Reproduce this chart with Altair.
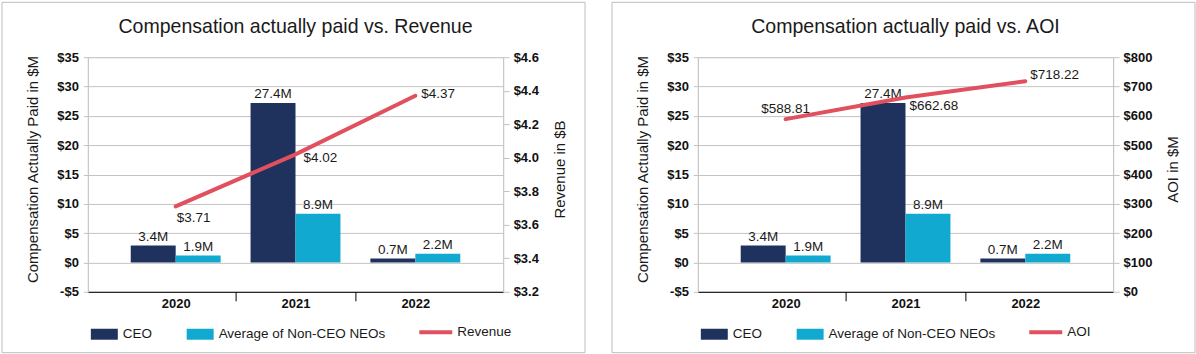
import altair as alt
import pandas as pd

# ---------------- data ----------------
years = ["2020", "2021", "2022"]
series_names = ["CEO", "Average of Non-CEO NEOs"]
ceo_values = [2.9, 27.2, 0.7]
neo_values = [1.2, 8.3, 1.5]
ceo_labels = ["3.4M", "27.4M", "0.7M"]
neo_labels = ["1.9M", "8.9M", "2.2M"]

revenue_values = [3.71, 4.02, 4.37]
revenue_labels = ["$3.71", "$4.02", "$4.37"]
aoi_values = [588.81, 662.68, 718.22]
aoi_labels = ["$588.81", "$662.68", "$718.22"]

comp_ticks = [-5, 0, 5, 10, 15, 20, 25, 30, 35]
revenue_ticks = [3.2, 3.4, 3.6, 3.8, 4.0, 4.2, 4.4, 4.6]
aoi_ticks = [0, 100, 200, 300, 400, 500, 600, 700, 800]

titles = ["Compensation actually paid vs. Revenue", "Compensation actually paid vs. AOI"]

# ---------------- style ----------------
FONT = "Liberation Sans"
NAVY = "#1F325E"
CYAN = "#11A9CF"
RED = "#E1505F"
GRID = "#C3C3C3"
FRAME = "#BDBDBD"
TEXT = "#1A1A1A"
PLOT_W, PLOT_H = 416, 235

bars_df = pd.DataFrame({
    "year": years * 2,
    "series": [series_names[0]] * 3 + [series_names[1]] * 3,
    "value": ceo_values + neo_values,
    "label": ceo_labels + neo_labels,
})

x_enc = alt.X(
    "year:N", sort=years,
    scale=alt.Scale(paddingInner=0, paddingOuter=0.233),
    axis=alt.Axis(
        title=None, labelAngle=0, labelFont=FONT, labelFontSize=13,
        labelFontWeight="bold", labelColor="#111111", labelPadding=-3,
        domainColor="#000000", domainWidth=1, tickColor="#000000",
        tickSize=9, tickWidth=1, tickBand="extent", grid=False,
        tickOpacity={"condition": {"test": "datum.index < 0 || datum.index >= 1", "value": 0}, "value": 1},
    ),
)

x_off = alt.XOffset("series:N", sort=series_names,
                    scale=alt.Scale(paddingInner=0, paddingOuter=0.333))

y_left = alt.Y(
    "value:Q",
    scale=alt.Scale(domain=[-5, 35], nice=False, zero=False),
    axis=alt.Axis(
        values=comp_ticks, tickCount=20, labelOverlap=False,
        labelExpr="datum.value < 0 ? '-$' + abs(datum.value) : '$' + datum.value",
        title="Compensation Actually Paid in $M", titleFont=FONT, titleFontSize=15,
        titleFontWeight="normal", titleColor=TEXT, titlePadding=16, titleY=112,
        labelFont=FONT, labelFontSize=13, labelFontWeight="bold", labelColor="#111111",
        labelPadding=5, tickSize=4.5, tickColor=GRID, domainColor=GRID,
        grid=True, gridColor=GRID, gridWidth=1,
    ),
)


def frame_layer():
    return alt.Chart(alt.Data(values=[{"f": 1}])).mark_rect(
        fill="white", fillOpacity=0, stroke=FRAME, strokeWidth=1
    ).encode(x=alt.value(-86), x2=alt.value(498), y=alt.value(-55), y2=alt.value(296))


def bar_layers():
    bars = alt.Chart(bars_df).mark_bar().encode(
        x=x_enc, xOffset=x_off, y=y_left,
        color=alt.Color(
            "series:N", sort=series_names,
            scale=alt.Scale(domain=series_names, range=[NAVY, CYAN]),
            legend=alt.Legend(
                title=None, orient="none", direction="horizontal",
                legendX=3, legendY=264, padding=0,
                symbolType="M-1,-0.407H1V0.407H-1Z", symbolSize=729,
                symbolStrokeWidth=0, symbolOpacity=1,
                labelFont=FONT, labelFontSize=13.5, labelColor=TEXT,
                labelOffset=5, columnPadding=34, labelLimit=400,
            ),
        ),
    )
    text = alt.Chart(bars_df).mark_text(
        font=FONT, fontSize=13.5, color=TEXT, baseline="alphabetic", dy=-4.5
    ).encode(x=x_enc, xOffset=x_off, y=alt.Y("value:Q"), text="label:N")
    return alt.layer(frame_layer(), bars, text)


def line_layers(metric, values, labels, ticks, domain, label_expr, axis_title, label_specs):
    df = pd.DataFrame({"year": years, "metric": [metric] * 3, "value": values, "label": labels})
    y_right = alt.Y(
        "value:Q",
        scale=alt.Scale(domain=domain, nice=False, zero=False),
        axis=alt.Axis(
            orient="right", values=ticks, tickCount=20, labelExpr=label_expr, labelOverlap=False,
            title=axis_title, titleAngle=270, titleBaseline="top",
            titleFont=FONT, titleFontSize=15, titleFontWeight="normal", titleColor=TEXT,
            titlePadding=14, titleY=112,
            labelFont=FONT, labelFontSize=13, labelFontWeight="bold", labelColor="#111111",
            labelPadding=4, tickSize=6, tickColor=GRID, domainColor=GRID, grid=False,
        ),
    )
    line = alt.Chart(df).mark_line(strokeWidth=4, strokeCap="round").encode(
        x=x_enc, y=y_right,
        stroke=alt.Stroke(
            "metric:N",
            scale=alt.Scale(domain=[metric], range=[RED]),
            legend=alt.Legend(
                title=None, orient="none", direction="horizontal",
                legendX=330, legendY=257, padding=0,
                symbolType="stroke", symbolSize=1089, symbolStrokeWidth=4,
                labelFont=FONT, labelFontSize=13.5, labelColor=TEXT,
                labelOffset=3, labelLimit=400,
            ),
        ),
    )
    layers = [line]
    for yr, (align, baseline, dx, dy) in zip(years, label_specs):
        layers.append(
            alt.Chart(df).transform_filter(alt.datum.year == yr).mark_text(
                font=FONT, fontSize=13.5, color=TEXT, align=align, baseline=baseline, dx=dx, dy=dy
            ).encode(x=x_enc, y=alt.Y("value:Q"), text="label:N")
        )
    return alt.layer(*layers)


def panel(title, right):
    return alt.layer(bar_layers(), right).resolve_scale(y="independent").properties(
        width=PLOT_W, height=PLOT_H,
        title=alt.TitleParams(title, font=FONT, fontSize=19.6, fontWeight="normal",
                              color=TEXT, anchor="middle", offset=-36),
    )


rev_specs = [("left", "middle", 1, 12), ("left", "middle", 8, 4), ("left", "middle", 6, -2)]
aoi_specs = [("center", "alphabetic", 0, -6), ("left", "middle", 4, 9), ("left", "middle", 5, -6.5)]

p1 = panel(titles[0], line_layers("Revenue", revenue_values, revenue_labels, revenue_ticks, [3.2, 4.6],
                                  "'$' + format(datum.value, '.1f')", "Revenue in $B", rev_specs))
p2 = panel(titles[1], line_layers("AOI", aoi_values, aoi_labels, aoi_ticks, [0, 800],
                                  "'$' + datum.value", "AOI in $M", aoi_specs))

chart = alt.hconcat(p1, p2, spacing=25).resolve_scale(
    x="independent", y="independent", color="independent", stroke="independent"
).resolve_legend(color="independent", stroke="independent").properties(
    padding={"left": 1, "top": 1, "right": 0, "bottom": 0},
    background="white",
).configure_view(strokeWidth=0).configure(font=FONT)

chart.save("out.html", embed_options={"renderer": "svg", "actions": False})
